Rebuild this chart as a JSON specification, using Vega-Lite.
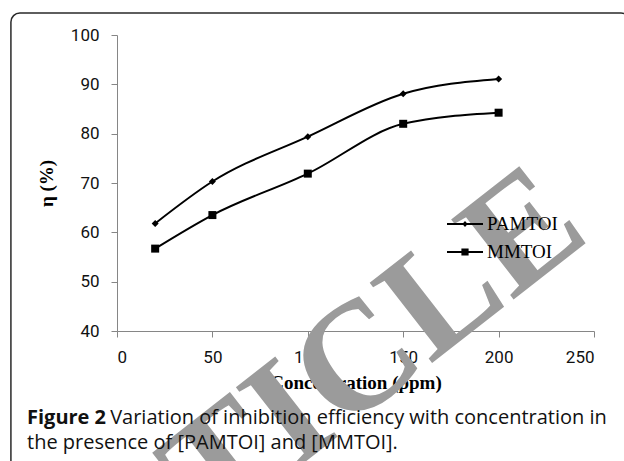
{
  "$schema": "https://vega.github.io/schema/vega-lite/v6.json",
  "autosize": {"type": "none"},
  "width": 477,
  "height": 296,
  "padding": {"top": 35, "left": 117, "right": 30, "bottom": 130},
  "background": "white",
  "config": {
    "view": {"stroke": null},
    "axis": {
      "domainColor": "#868686",
      "tickColor": "#868686",
      "tickSize": 6,
      "labelFont": "Roboto",
      "labelFontSize": 17,
      "labelColor": "#111111",
      "labelPadding": 12,
      "grid": false,
      "titleFont": "Liberation Serif",
      "titleFontSize": 19,
      "titleFontWeight": "bold",
      "titleColor": "#000000"
    }
  },
  "title": {
    "text": "Figure 2",
    "subtitle": ["\u200b\u00a0\u00a0\u00a0\u00a0\u00a0\u00a0\u00a0\u00a0\u00a0\u00a0\u00a0\u00a0\u00a0\u00a0\u00a0\u00a0Variation of inhibition efficiency with concentration in", "the presence of [PAMTOI] and [MMTOI]."],
    "orient": "top",
    "anchor": "start",
    "align": "left",
    "frame": "group",
    "dx": -90,
    "offset": -441.25,
    "font": "Open Sans",
    "fontSize": 20,
    "fontWeight": "bold",
    "color": "#111111",
    "subtitleFont": "Open Sans",
    "subtitleFontSize": 20,
    "subtitleFontWeight": "normal",
    "subtitleColor": "#111111",
    "subtitlePadding": -20,
    "subtitleLineHeight": 25.5
  },
  "data": {
    "values": [
      {"x": 20, "eta": 61.8, "series": "PAMTOI"},
      {"x": 50, "eta": 70.3, "series": "PAMTOI"},
      {"x": 100, "eta": 79.4, "series": "PAMTOI"},
      {"x": 150, "eta": 88.1, "series": "PAMTOI"},
      {"x": 200, "eta": 91.1, "series": "PAMTOI"},
      {"x": 20, "eta": 56.7, "series": "MMTOI"},
      {"x": 50, "eta": 63.5, "series": "MMTOI"},
      {"x": 100, "eta": 71.9, "series": "MMTOI"},
      {"x": 150, "eta": 82.0, "series": "MMTOI"},
      {"x": 200, "eta": 84.25, "series": "MMTOI"}
    ]
  },
  "layer": [
    {
      "data": {"values": [{"frame": "border"}]},
      "mark": {"type": "rect", "fill": null, "fillOpacity": 0, "stroke": "#2a2a2a", "strokeWidth": 1.5, "cornerRadius": 9},
      "encoding": {
        "x": {"datum": -55.6, "type": "quantitative"},
        "x2": {"datum": 268.9},
        "y": {"datum": 104.46, "type": "quantitative"},
        "y2": {"datum": 11.8}
      }
    },
    {
      "mark": {"type": "line", "interpolate": "monotone", "color": "black", "strokeWidth": 2},
      "encoding": {
        "x": {"field": "x", "type": "quantitative", "scale": {"domain": [0, 250], "nice": false},
              "axis": {"values": [0, 50, 100, 150, 200, 250], "title": "Concentration (ppm)", "titlePadding": 8}},
        "y": {"field": "eta", "type": "quantitative", "scale": {"domain": [40, 100], "nice": false, "zero": false},
              "axis": {"values": [40, 50, 60, 70, 80, 90, 100], "title": "η (%)", "titlePadding": 14}},
        "detail": {"field": "series"}
      }
    },
    {
      "mark": {"type": "point", "filled": true, "color": "black", "opacity": 1},
      "encoding": {
        "x": {"field": "x", "type": "quantitative"},
        "y": {"field": "eta", "type": "quantitative"},
        "shape": {"field": "series", "type": "nominal", "scale": {"domain": ["PAMTOI", "MMTOI"], "range": ["diamond", "square"]}, "legend": null},
        "size": {"field": "series", "type": "nominal", "scale": {"domain": ["PAMTOI", "MMTOI"], "range": [49, 64]}, "legend": null}
      }
    },
    {
      "transform": [{"filter": "datum.x < 0"}],
      "mark": {"type": "point", "filled": true, "color": "black", "opacity": 1},
      "encoding": {
        "x": {"field": "x", "type": "quantitative"},
        "y": {"field": "eta", "type": "quantitative"},
        "shape": {
          "field": "series", "type": "nominal",
          "scale": {"domain": ["PAMTOI", "MMTOI"], "range": [
            "M-1,-0.055L1,-0.055L1,0.055L-1,0.055Z M0,-0.17L0.15,0L0,0.17L-0.15,0Z",
            "M-1,-0.055L1,-0.055L1,0.055L-1,0.055Z M-0.2,-0.2L0.2,-0.2L0.2,0.2L-0.2,0.2Z"
          ]},
          "legend": {
            "title": null,
            "orient": "none",
            "legendX": 330,
            "legendY": 171,
            "padding": 0,
            "rowPadding": -2,
            "symbolSize": 1296,
            "symbolFillColor": "black",
            "symbolStrokeWidth": 0,
            "symbolOpacity": 1,
            "labelFont": "Liberation Serif",
            "labelFontSize": 19,
            "labelColor": "#000000",
            "labelOffset": 4
          }
        }
      }
    },
    {
      "data": {"values": [{"stamp": "RETRACTED ARTICLE"}]},
      "mark": {"type": "text", "align": "right", "baseline": "alphabetic", "angle": -38, "font": "Liberation Serif", "fontWeight": "bold", "fontSize": 155, "color": "#9b9b9b"},
      "encoding": {
        "x": {"datum": 249.4, "type": "quantitative"},
        "y": {"datum": 59.0, "type": "quantitative"},
        "text": {"field": "stamp"}
      }
    }
  ],
  "resolve": {"scale": {"shape": "independent", "size": "independent"}, "legend": {"shape": "independent"}}
}
